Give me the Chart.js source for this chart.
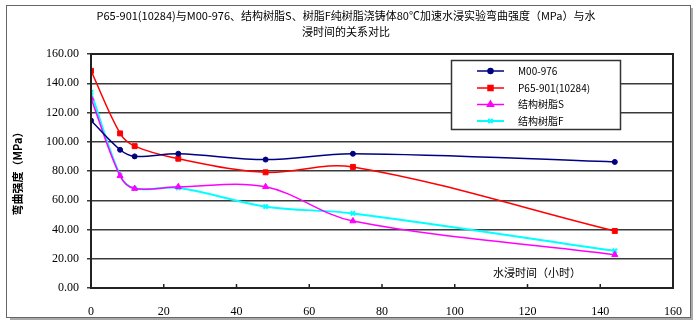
<!DOCTYPE html>
<html>
<head>
<meta charset="utf-8">
<script src="https://cdn.jsdelivr.net/npm/chart.js@4.4.0/dist/chart.umd.min.js"></script>
<style>
  html, body { margin: 0; padding: 0; background: #fff; }
  #wrap { width: 700px; height: 328px; position: relative; }
</style>
</head>
<body>
<div id="wrap"><canvas id="chart" width="700" height="328"></canvas></div>
<script>
// 数据
const hours = [0, 8, 12, 24, 48, 72, 144];
const m00 = [114.5, 94.5, 90, 91.8, 87.8, 91.8, 86.2];
const p65 = [148.5, 105.7, 97, 88.4, 79.1, 82.8, 39];
const resinS = [129.7, 76.7, 68, 69.2, 69.2, 45.8, 22.7];
const resinF = [133.8, 77, 68, 68.5, 55.6, 51, 25.4];

const seriesNames = ["M00-976", "P65-901(10284)", "结构树脂S", "结构树脂F"];
const yTicks = [0, 20, 40, 60, 80, 100, 120, 140, 160];
const xTicks = [0, 20, 40, 60, 80, 100, 120, 140, 160];

const titleLines = [
  "P65-901(10284)与M00-976、结构树脂S、树脂F纯树脂浇铸体80℃加速水浸实验弯曲强度（MPa）与水",
  "浸时间的关系对比",
];
const yTitle = "弯曲强度（MPa）";
const xTitle = "水浸时间（小时）";

const CJK = '"Noto Sans CJK SC", sans-serif';
const NUM = '"Liberation Serif", serif';

const toPoints = (arr) => arr.map((v, i) => ({ x: hours[i], y: v }));

const styles = [
  { color: "#000080", pointStyle: "circle", radius: 2.5, width: 1.5 },
  { color: "#ff0000", pointStyle: "rect", radius: 3.5, width: 1.5 },
  { color: "#ff00ff", pointStyle: "triangle", radius: 3.5, width: 1.5 },
  { color: "#00ffff", pointStyle: "crossRot", radius: 3, width: 2 },
];
const values = [m00, p65, resinS, resinF];

// 边框、标题、图例等
const decorPlugin = {
  id: "decor",
  beforeDraw(chart) {
    const ctx = chart.ctx;
    ctx.save();
    ctx.fillStyle = "#fff";
    ctx.fillRect(0, 0, chart.width, chart.height);
    // 外框阴影
    ctx.strokeStyle = "#aaa";
    ctx.lineWidth = 2;
    ctx.beginPath();
    ctx.moveTo(692, 8);
    ctx.lineTo(692, 319);
    ctx.lineTo(10, 319);
    ctx.stroke();
    ctx.strokeStyle = "#666";
    ctx.lineWidth = 1;
    ctx.strokeRect(6.5, 5.5, 684, 312);
    ctx.restore();
  },
  afterDraw(chart) {
    const ctx = chart.ctx;
    const area = chart.chartArea;
    const xs = chart.scales.x;
    ctx.save();

    // 标题
    ctx.fillStyle = "#000";
    ctx.font = "11px " + CJK;
    ctx.textAlign = "center";
    ctx.textBaseline = "middle";
    ctx.fillText(titleLines[0], 346, 16);
    ctx.fillText(titleLines[1], 346, 32);

    // 纵轴标题
    ctx.save();
    ctx.translate(18, 171);
    ctx.rotate(-Math.PI / 2);
    ctx.font = "bold 11px " + CJK;
    ctx.fillText(yTitle, 0, 0);
    ctx.restore();

    // 横轴标题（图内右下）
    ctx.font = "11px " + CJK;
    ctx.textAlign = "left";
    ctx.fillText(xTitle, 493, 273);

    // 绘图区边框
    ctx.strokeStyle = "#222";
    ctx.lineWidth = 2;
    ctx.strokeRect(area.left, area.top, area.right - area.left, area.bottom - area.top);

    // 横轴内刻度
    ctx.lineWidth = 1.5;
    ctx.beginPath();
    xTicks.forEach((t) => {
      const px = xs.getPixelForValue(t);
      ctx.moveTo(px, area.bottom);
      ctx.lineTo(px, area.bottom - 4);
    });
    ctx.stroke();

    // 图例
    const lx = 451, ly = 60, lw = 169, lh = 69;
    ctx.fillStyle = "#fff";
    ctx.fillRect(lx, ly, lw, lh);
    ctx.strokeStyle = "#333";
    ctx.lineWidth = 1.5;
    ctx.strokeRect(lx + 0.5, ly + 0.5, lw, lh);
    const rows = [71, 88, 104.5, 121];
    seriesNames.forEach((name, i) => {
      const s = styles[i];
      const y = rows[i];
      ctx.strokeStyle = s.color;
      ctx.fillStyle = s.color;
      ctx.lineWidth = s.width;
      ctx.beginPath();
      ctx.moveTo(477, y);
      ctx.lineTo(504, y);
      ctx.stroke();
      Chart.helpers.drawPoint(ctx, {
        pointStyle: s.pointStyle,
        radius: s.radius,
        borderWidth: s.width,
        rotation: 0,
      }, 490.5, y);
      ctx.fillStyle = "#000";
      ctx.font = "10px " + CJK;
      ctx.textAlign = "left";
      ctx.fillText(name, 518, y);
    });
    ctx.restore();
  },
};

const datasets = values.map((arr, i) => ({
  label: seriesNames[i],
  data: toPoints(arr),
  borderColor: styles[i].color,
  backgroundColor: styles[i].color,
  borderWidth: styles[i].width,
  pointStyle: styles[i].pointStyle,
  pointRadius: styles[i].radius,
  pointBorderWidth: styles[i].pointStyle === "crossRot" ? 2 : 1,
  tension: 0.35,
  fill: false,
}));

new Chart(document.getElementById("chart"), {
  type: "line",
  data: { datasets: datasets },
  plugins: [decorPlugin],
  options: {
    responsive: false,
    animation: false,
    layout: { padding: { top: 54, right: 27, left: 0, bottom: 0 } },
    plugins: {
      legend: { display: false },
      title: { display: false },
      tooltip: { enabled: false },
    },
    scales: {
      x: {
        type: "linear",
        min: 0,
        max: 160,
        afterBuildTicks: (scale) => {
          scale.ticks = xTicks.map((v) => ({ value: v }));
        },
        afterFit: (scale) => { scale.height = 40; },
        grid: { display: false, drawOnChartArea: false },
        border: { display: false },
        ticks: {
          color: "#000",
          font: { family: NUM, size: 12 },
          padding: 9,
          maxRotation: 0,
          autoSkip: false,
        },
      },
      y: {
        min: 0,
        max: 160,
        afterBuildTicks: (scale) => {
          scale.ticks = yTicks.map((v) => ({ value: v }));
        },
        afterFit: (scale) => { scale.width = 91; },
        grid: { color: "#3a3a3a", lineWidth: 1.5, tickLength: 4 },
        border: { display: false },
        ticks: {
          color: "#000",
          font: { family: NUM, size: 12 },
          padding: 8,
          callback: (v) => Number(v).toFixed(2),
        },
      },
    },
  },
});
</script>
</body>
</html>
